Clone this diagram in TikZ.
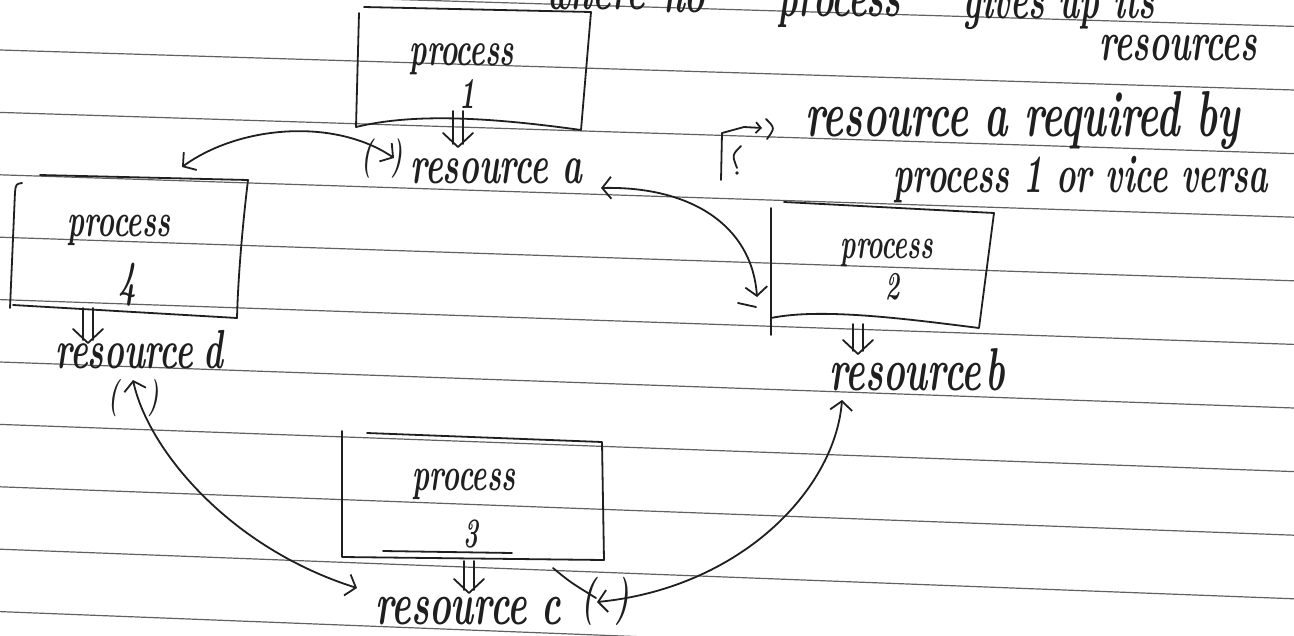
\documentclass[tikz,border=0pt]{standalone}
\usepackage{fontspec}
\usepackage{graphicx}
\usetikzlibrary{arrows.meta}
% handwritten-looking label: size in pt, condensed horizontally, a little taller
\newcommand\hw[2]{\scalebox{0.67}[1.1]{\fontsize{#1pt}{#1pt}\selectfont\bfseries\itshape #2}}
% double-shafted arrow from a box down to its resource
\newcommand\ddarrow[2]{%
  \draw[ink] ([xshift=-5pt]#1) -- ([xshift=-5pt,yshift=3pt]#2)
             ([xshift=5pt]#1) -- ([xshift=5pt,yshift=3pt]#2)
             ([xshift=-15pt,yshift=14pt]#2) -- (#2) -- ([xshift=15pt,yshift=14pt]#2);}
\begin{document}
\begin{tikzpicture}[x=1pt,y=-1pt,
  ink/.style={line width=1.8pt,line cap=round,line join=round,draw=black!88},
  ruled/.style={line width=1.2pt,draw=black!62},
  lbl/.style={inner sep=0pt,anchor=base west,text=black!88},
  lblc/.style={inner sep=0pt,anchor=base,text=black!88},
  alr/.style={{Straight Barb[length=9pt,width=22pt]}-{Straight Barb[length=9pt,width=22pt]}},
  ar/.style={-{Straight Barb[length=5pt,width=11pt]}}]
\useasboundingbox (0,0) rectangle (1294,635);
\clip (0,0) rectangle (1294,635);
\fill[white] (0,0) rectangle (1294,635);

% ruled paper
\foreach \k in {-1,...,9}
  \draw[ruled] (0,{50+62.4*\k}) -- (1294,{90+63.6*\k});

% heading words
\node[lbl] (t1) at (545,9) {\hw{52}{where}};
\node[lbl] (t2) at (662,12) {\hw{52}{no}};
\node[lbl] (t3) at (777,16) {\hw{52}{process}};
\node[lbl] (t4) at (963,18) {\hw{50}{gives up its}};
\node[lbl] (t5) at (1099,60) {\hw{51}{resources}};

% process 1
\draw[ink] (359,13) -- (356,127) .. controls (410,114) and (480,116) .. (581,130)
           -- (591,12) -- (364,7);
\node[lblc] (p1) at (462,65) {\hw{44}{process}};
\node[lblc] (p1n) at (467,108) {\hw{40}{1}};
\coordinate (d1a) at (458,111); \coordinate (d1b) at (458,147);
\ddarrow{d1a}{d1b}
\node[lbl] (ra) at (410,183) {\hw{50}{resource a}};
\node[lblc] (rapar) at (382,168) {\hw{36}{(\hspace{28pt})}};

% process 4
\draw[ink] (40,175) -- (248,180) .. controls (242,230) and (238,280) .. (237,318) -- (13,305);
\draw[ink] (22,183) .. controls (16,184) .. (15,192) -- (10,308);
\node[lblc] (p4) at (119,236) {\hw{43}{process}};
\node[lblc] (p4n) at (128,296) {\hw{46}{4}};
\coordinate (d4a) at (88,308); \coordinate (d4b) at (88,343);
\ddarrow{d4a}{d4b}
\node[lbl] (rd) at (55,368) {\hw{50}{resource\hspace{15pt}d}};
\node[lblc] (rdpar) at (134,407) {\hw{34}{(\hspace{44pt})}};

% process 2
\draw[ink] (771,208) -- (771,335);
\draw[ink] (784,202) -- (994,213) -- (979,328) .. controls (900,318) and (820,308) .. (771,318);
\node[lblc] (p2) at (887,258) {\hw{39}{process}};
\node[lblc] (p2n) at (893,299) {\hw{36}{2}};
\coordinate (d2a) at (858,324); \coordinate (d2b) at (858,354);
\ddarrow{d2a}{d2b}
\node[lbl] (rb) at (829,390) {\hw{55}{resource\hspace{6pt}b}};

% process 3
\draw[ink] (342,431) -- (342,557) -- (604,560) -- (602,442) -- (367,433);
\draw[ink] (383,551) -- (512,553);
\node[lblc] (p3) at (464,490) {\hw{43}{process}};
\node[lblc] (p3n) at (471,547) {\hw{38}{3}};
\coordinate (d3a) at (469,561); \coordinate (d3b) at (469,593);
\ddarrow{d3a}{d3b}
\node[lbl] (rc) at (375,624) {\hw{55}{resource\hspace{22pt}c}};
\node[lblc] (rcpar) at (605,613) {\hw{44}{(\hspace{30pt})}};

% request / hold edges
\coordinate (ratip) at (394,158);  \coordinate (b4tip) at (182,167);
\coordinate (ra2tip) at (601,188); \coordinate (b2tip) at (757,297);
\coordinate (rdtip) at (133,380);  \coordinate (rctip) at (357,588);
\coordinate (rbtip) at (842,400);  \coordinate (rc2tip) at (597,602);
\draw[ink,alr] (ratip) .. controls (335,118) and (240,125) .. (b4tip);
\draw[ink,alr] (ra2tip) .. controls (690,186) and (752,225) .. (b2tip);
\draw[ink] (738,303) -- (756,307);
\draw[ink,alr] (rdtip) .. controls (148,450) and (230,548) .. (rctip);
\draw[ink,alr] (rbtip) .. controls (835,490) and (740,588) .. (rc2tip);
\draw[ink] (553,568) .. controls (570,582) .. (596,598);

% legend
\coordinate (lga) at (744,127); \coordinate (lgb) at (762,128);
\draw[ink] (721,180) -- (722,133) -- (lga);
\draw[ink,ar] (lga) -- (lgb);
\draw[ink] (766,119) .. controls (775,128) .. (767,139);
\draw[ink] (741,146) .. controls (732,155) .. (737,168);
\fill[black!88] (737,173) circle (1.8pt);
\node[lbl] (lg1) at (805,136) {\hw{59}{resource a required by}};
\node[lbl] (lg2) at (893,192) {\hw{49}{process 1 or vice versa}};
\end{tikzpicture}
\end{document}
